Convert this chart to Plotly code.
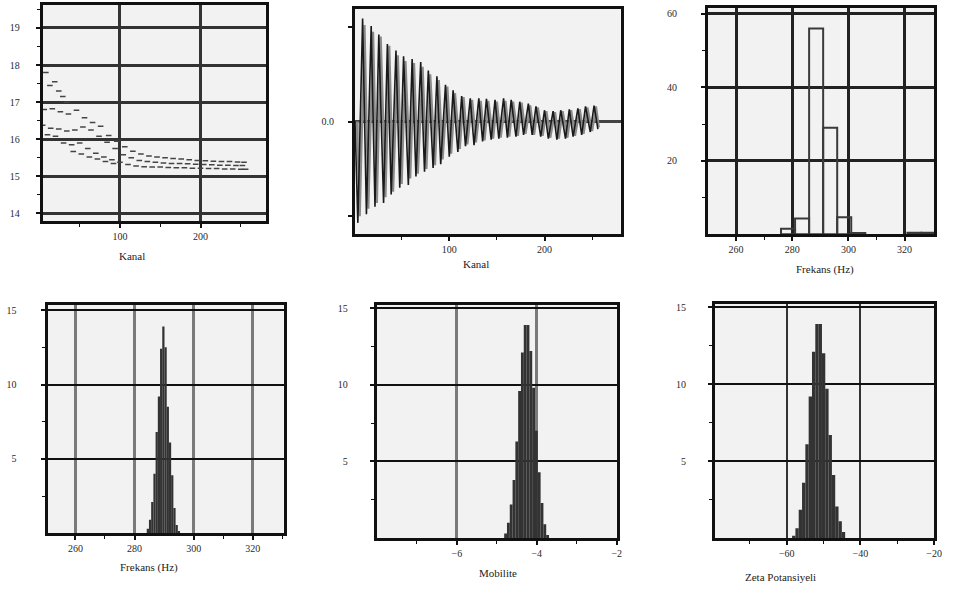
import plotly.graph_objects as go

W, H = 953, 590

# ---------------- data ----------------
# Panel 1: decay curves (Kanal)
k1_x = [8, 13, 19, 24, 29, 34]
k1_y = [17.8, 17.45, 17.55, 17.3, 17.15, 17.0]
k2_x = [6, 16, 26, 36, 46, 56, 66, 76, 86, 96, 106, 116, 126, 136, 146, 156, 166, 176, 186, 196,
        206, 216, 226, 236, 246, 254]
k2_y = [16.8, 16.82, 16.74, 16.68, 16.78, 16.58, 16.45, 16.35, 16.1, 15.95, 15.8, 15.68, 15.6, 15.55,
        15.52, 15.5, 15.48, 15.47, 15.45, 15.43, 15.42, 15.41, 15.4, 15.4, 15.39, 15.38]
k3_x = [4, 14, 24, 34, 44, 54, 64, 74, 84, 94, 104, 114, 124, 134, 144, 154, 164, 174, 184, 194,
        204, 214, 224, 234, 244, 252]
k3_y = [16.38, 16.3, 16.28, 16.22, 16.25, 16.33, 16.25, 16.08, 15.92, 15.75, 15.58, 15.5, 15.43, 15.4,
        15.38, 15.36, 15.35, 15.35, 15.34, 15.33, 15.32, 15.31, 15.3, 15.3, 15.29, 15.29]
k4_x = [10, 20, 30, 40, 50, 60, 70, 80, 90, 100, 110, 120, 130, 140, 150, 160, 170, 180, 190, 200,
        210, 220, 230, 240, 250, 256]
k4_y = [16.12, 16.08, 15.9, 15.85, 15.9, 15.75, 15.62, 15.52, 15.45, 15.38, 15.32, 15.28, 15.26, 15.25,
        15.25, 15.24, 15.23, 15.23, 15.22, 15.22, 15.21, 15.21, 15.2, 15.2, 15.19, 15.19]
k5_x = [42, 52, 62, 72, 82, 92]
k5_y = [15.67, 15.6, 15.52, 15.47, 15.4, 15.35]

# Panel 2: oscillating signal (Kanal)
sig_black_x = [1, 4, 9, 13, 18, 22, 26, 31, 35, 39, 44, 48, 52, 57, 61, 65, 70, 74, 78, 83,
               87, 91, 96, 100, 104, 109, 113, 117, 122, 126, 131, 135, 139, 144, 148, 152, 157, 161, 165, 170,
               174, 178, 183, 187, 191, 196, 200, 204, 209, 213, 217, 222, 226, 230, 235, 239, 243, 248, 252, 256]
sig_black_y = [0, -1.07, 1.09, -0.98, 1.01, -0.90, 0.92, -0.86, 0.82, -0.77,
               0.75, -0.70, 0.69, -0.67, 0.66, -0.58, 0.63, -0.53, 0.54, -0.49,
               0.48, -0.45, 0.39, -0.37, 0.33, -0.32, 0.27, -0.26, 0.245, -0.25,
               0.245, -0.21, 0.24, -0.19, 0.23, -0.18, 0.245, -0.17, 0.23, -0.16,
               0.21, -0.14, 0.19, -0.14, 0.16, -0.16, 0.12, -0.18, 0.11, -0.19,
               0.12, -0.18, 0.13, -0.16, 0.14, -0.14, 0.16, -0.11, 0.17, -0.08]
sig_gray_x = [3, 6, 11, 15, 20, 24, 28, 33, 37, 41, 46, 50, 54, 59, 63, 67, 72, 76, 80, 85,
              89, 93, 98, 102, 106, 111, 115, 119, 124, 128, 133, 137, 141, 146, 150, 154, 159, 163, 167, 172,
              176, 180, 185, 189, 193, 198, 202, 206, 211, 215, 219, 224, 228, 232, 237, 241, 245, 250, 254, 257]
sig_gray_y = [0, -1.0, 1.02, -0.92, 0.95, -0.86, 0.9, -0.8, 0.8, -0.74,
              0.7, -0.66, 0.64, -0.6, 0.62, -0.55, 0.58, -0.5, 0.5, -0.46,
              0.44, -0.4, 0.37, -0.34, 0.3, -0.29, 0.26, -0.24, 0.23, -0.22,
              0.22, -0.2, 0.22, -0.18, 0.21, -0.17, 0.22, -0.16, 0.21, -0.15,
              0.2, -0.13, 0.17, -0.14, 0.15, -0.15, 0.11, -0.17, 0.1, -0.18,
              0.11, -0.17, 0.12, -0.15, 0.13, -0.13, 0.15, -0.1, 0.16, -0.06]

# Panel 3: coarse frequency histogram
fr_coarse_x = [278.5, 283.5, 288.5, 293.5, 298.5, 303.5, 323.5, 328.5]
fr_coarse_y = [1.5, 4.3, 56, 29, 4.6, 0.3, 0.4, 0.4]

# Panel 4: frequency distribution
freq_x = [284.5, 285.25, 286.0, 286.75, 287.5, 288.25, 289.0, 289.75, 290.5, 291.25, 292.0, 292.75,
          293.5, 294.25, 295.0]
freq_y = [0.3, 0.9, 2.1, 4.0, 6.8, 9.2, 12.4, 13.9, 12.5, 8.5, 6.1, 3.9, 1.7, 0.55, 0.15]

# Panel 5: mobility distribution
mob_x = [-4.78, -4.71, -4.64, -4.57, -4.50, -4.43, -4.36, -4.29, -4.22, -4.15, -4.08, -4.01, -3.94,
         -3.87, -3.80, -3.73]
mob_y = [0.3, 1.0, 2.2, 3.8, 6.3, 9.6, 12.1, 13.9, 13.9, 12.2, 9.8, 7.0, 4.3, 2.3, 0.9, 0.2]

# Panel 6: zeta potential distribution
zeta_x = [-58.1, -57.2, -56.3, -55.4, -54.5, -53.6, -52.7, -51.8, -50.9, -50.0, -49.1, -48.2, -47.3,
          -46.4, -45.5, -44.6]
zeta_y = [0.15, 0.65, 1.85, 3.6, 6.1, 9.2, 12.1, 13.9, 13.9, 12.0, 9.7, 6.7, 4.1, 2.05, 1.1, 0.4]

titles = ["Kanal", "Kanal", "Frekans (Hz)", "Frekans (Hz)", "Mobilite", "Zeta Potansiyeli"]

# ---------------- figure ----------------
FONT = "Liberation Serif, DejaVu Serif, serif"
fig = go.Figure()


def dx(a, b):
    return [a / W, b / W]


def dy(top, bottom):
    return [1 - bottom / H, 1 - top / H]


# panel 1 scatter
for xs, ys in [(k1_x, k1_y), (k2_x, k2_y), (k3_x, k3_y), (k4_x, k4_y), (k5_x, k5_y)]:
    fig.add_trace(go.Scatter(x=xs, y=ys, mode="markers", xaxis="x", yaxis="y",
                             marker=dict(symbol="line-ew", size=4,
                                         line=dict(color="#444444", width=1.5)),
                             showlegend=False))

# panel 2
fig.add_trace(go.Scatter(x=sig_gray_x, y=sig_gray_y, mode="lines", xaxis="x2", yaxis="y2",
                         line=dict(color="#8a8a8a", width=2.2), fill="tozeroy",
                         fillcolor="rgba(145,145,145,0.7)", showlegend=False))
fig.add_trace(go.Scatter(x=sig_black_x, y=sig_black_y, mode="lines", xaxis="x2", yaxis="y2",
                         line=dict(color="#1a1a1a", width=1.6), showlegend=False))

# panel 3
fig.add_trace(go.Bar(x=fr_coarse_x, y=fr_coarse_y, width=5, xaxis="x3", yaxis="y3",
                     marker=dict(color="rgba(0,0,0,0)", line=dict(color="#3a3a3a", width=2)),
                     showlegend=False))

# panels 4-6
fig.add_trace(go.Bar(x=freq_x, y=freq_y, width=0.76, xaxis="x4", yaxis="y4",
                     marker=dict(color="#333333", line=dict(width=0)), showlegend=False))
fig.add_trace(go.Bar(x=mob_x, y=mob_y, width=0.071, xaxis="x5", yaxis="y5",
                     marker=dict(color="#333333", line=dict(width=0)), showlegend=False))
fig.add_trace(go.Bar(x=zeta_x, y=zeta_y, width=0.91, xaxis="x6", yaxis="y6",
                     marker=dict(color="#333333", line=dict(width=0)), showlegend=False))

tickfont = dict(family=FONT, size=10, color="#2a2a2a")


def xax(domain, rng, tickvals, ticktext, minor_vals, anchor, grid=True, gridcolor="#333", gridwidth=3):
    return dict(domain=domain, range=rng, anchor=anchor, showline=True, linecolor="#111", linewidth=3,
                mirror=True, ticks="outside", ticklen=4, tickwidth=1.5, tickcolor="#111",
                tickfont=tickfont, showgrid=grid, gridcolor=gridcolor, gridwidth=gridwidth,
                zeroline=False, tickmode="array", tickvals=tickvals, ticktext=ticktext,
                fixedrange=True,
                minor=dict(tickmode="array", tickvals=minor_vals, ticks="outside", ticklen=3,
                           tickwidth=1.2, tickcolor="#111", showgrid=False))


def yax(domain, rng, tickvals, ticktext, minor_vals, anchor, grid=True, gridcolor="#111", gridwidth=2,
        standoff=16):
    return dict(domain=domain, range=rng, anchor=anchor, showline=True, linecolor="#111", linewidth=3,
                mirror=True, ticks="outside", ticklen=4, tickwidth=1.5, tickcolor="#111",
                tickfont=tickfont, showgrid=grid, gridcolor=gridcolor, gridwidth=gridwidth,
                zeroline=False, tickmode="array", tickvals=tickvals, ticktext=ticktext,
                fixedrange=True, ticklabelstandoff=standoff,
                minor=dict(tickmode="array", tickvals=minor_vals, ticks="outside", ticklen=3,
                           tickwidth=1.2, tickcolor="#111", showgrid=False))


layout = dict(width=W, height=H, margin=dict(l=0, r=0, t=0, b=0),
              paper_bgcolor="white", plot_bgcolor="#f2f2f2", showlegend=False,
              barmode="overlay")

# panel 1
layout["xaxis"] = xax(dx(43, 268), [4, 281], [100, 200], ["100", "200"], [50, 150, 250], "y")
layout["yaxis"] = yax(dy(3, 220), [13.79, 19.62], [14, 15, 16, 17, 18, 19],
                      ["14", "15", "16", "17", "18", "19"],
                      [14.5, 15.5, 16.5, 17.5, 18.5, 19.5], "x", gridcolor="#333", gridwidth=3,
                      standoff=14)

# panel 2
layout["xaxis2"] = xax(dx(358, 626), [1, 280], [100, 200], ["100", "200"], [50, 150, 250], "y2",
                       grid=False)
y2 = yax(dy(7, 233), [-1.19, 1.19], [-1, 0, 1], ["", "0.0", ""], [], "x2", grid=False, standoff=12)
y2.update(zeroline=True, zerolinecolor="#444", zerolinewidth=2.5)
layout["yaxis2"] = y2

# panel 3
layout["xaxis3"] = xax(dx(714, 942), [250, 330.5], [260, 280, 300, 320], ["260", "280", "300", "320"],
                       [270, 310], "y3", gridcolor="#222", gridwidth=3)
layout["yaxis3"] = yax(dy(6, 233), [0, 61.6], [20, 40, 60], ["20", "40", "60"], [10, 30, 50], "x3",
                       gridcolor="#222", gridwidth=3, standoff=22)

# panel 4
layout["xaxis4"] = xax(dx(48, 286), [250.6, 330.4], [260, 280, 300, 320], ["260", "280", "300", "320"],
                       [270, 310, 330], "y4", gridcolor="#7a7a7a", gridwidth=3)
layout["yaxis4"] = yax(dy(304, 533), [0, 15.35], [5, 10, 15], ["5", "10", "15"], [2.5, 7.5, 12.5], "x4",
                       standoff=22)

# panel 5
layout["xaxis5"] = xax(dx(380, 622), [-8, -2], [-6, -4, -2], ["\u22126", "\u22124", "\u22122"],
                       [-7, -5, -3], "y5", gridcolor="#7a7a7a", gridwidth=3)
layout["yaxis5"] = yax(dy(304, 538), [0, 15.2], [5, 10, 15], ["5", "10", "15"], [2.5, 7.5, 12.5], "x5",
                       standoff=20)

# panel 6
layout["xaxis6"] = xax(dx(721, 942), [-79.5, -20], [-60, -40, -20], ["\u221260", "\u221240", "\u221220"],
                       [-70, -50, -30], "y6", gridcolor="#333", gridwidth=2)
layout["yaxis6"] = yax(dy(303, 538), [0, 15.2], [5, 10, 15], ["5", "10", "15"], [2.5, 7.5, 12.5], "x6",
                       standoff=20)

fig.update_layout(**layout)

# axis titles (as annotations so their positions match)
title_pos = [(133, 255), (480, 263), (832, 268), (150, 567), (502, 573), (787, 577)]
for t, (px, py) in zip(titles, title_pos):
    fig.add_annotation(text=t, x=px / W, y=1 - py / H, xref="paper", yref="paper",
                       showarrow=False, xanchor="center", yanchor="middle",
                       font=dict(family=FONT, size=11, color="#222"))

fig.write_html("out.html")
